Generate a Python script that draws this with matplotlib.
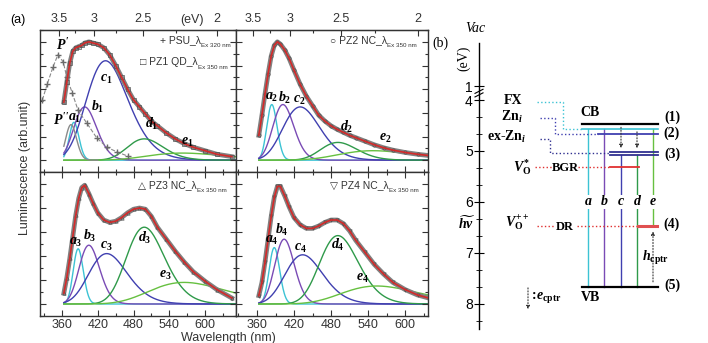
import numpy as np
import matplotlib
matplotlib.use('Agg')
import matplotlib.pyplot as plt
from matplotlib.ticker import MultipleLocator, FixedLocator

plt.rcParams['font.family'] = ['Liberation Sans', 'DejaVu Sans']
plt.rcParams['mathtext.fontset'] = 'custom'
plt.rcParams['mathtext.it'] = 'Liberation Serif:italic:bold'
plt.rcParams['mathtext.rm'] = 'Liberation Serif:bold'
plt.rcParams['mathtext.bf'] = 'Liberation Serif:bold'

wl = [363, 368, 373, 378, 383, 388, 393, 398, 405, 412, 420, 430, 440, 450,
      460, 470, 480, 490, 500, 510, 520, 535, 550, 565, 580, 600, 620, 645]
pz1 = [0.49, 0.66, 0.82, 0.92, 0.95, 0.96, 0.97, 0.99, 1.0, 0.99, 0.98, 0.95, 0.89, 0.80,
       0.70, 0.60, 0.51, 0.45, 0.39, 0.33, 0.29, 0.23, 0.18, 0.14, 0.11, 0.08, 0.05, 0.03]
pz2 = [0.21, 0.38, 0.56, 0.73, 0.88, 0.97, 1.0, 0.98, 0.93, 0.86, 0.76, 0.64, 0.54, 0.46,
       0.38, 0.33, 0.29, 0.26, 0.235, 0.21, 0.19, 0.16, 0.13, 0.105, 0.085, 0.065, 0.05, 0.035]
pz3 = [0.09, 0.22, 0.38, 0.56, 0.74, 0.88, 0.97, 0.99, 0.92, 0.84, 0.76, 0.70, 0.68, 0.69,
       0.72, 0.76, 0.79, 0.80, 0.79, 0.73, 0.64, 0.54, 0.44, 0.35, 0.27, 0.19, 0.12, 0.05]
pz4 = [0.07, 0.18, 0.35, 0.54, 0.73, 0.89, 0.98, 0.98, 0.90, 0.81, 0.72, 0.66, 0.63, 0.63,
       0.65, 0.68, 0.70, 0.70, 0.67, 0.61, 0.53, 0.43, 0.33, 0.25, 0.18, 0.12, 0.075, 0.04]

psu_wl = [327, 335, 345, 353, 362, 368, 377, 387, 402, 418, 435, 452, 470]
psu = [0.51, 0.64, 0.79, 0.89, 0.83, 0.70, 0.57, 0.42, 0.31, 0.19, 0.11, 0.07, 0.035]

# gaussian components: peak wavelength (nm), sigma (eV), height
pz1_peak = [380, 398, 433, 498, 562]
pz1_sig = [0.07, 0.15, 0.23, 0.15, 0.25]
pz1_h = [0.32, 0.45, 0.84, 0.18, 0.06]
pz2_peak = [384, 402, 430, 491, 548]
pz2_sig = [0.07, 0.13, 0.20, 0.15, 0.25]
pz2_h = [0.47, 0.47, 0.45, 0.15, 0.08]
pz3_peak = [387, 405, 435, 498, 565]
pz3_sig = [0.07, 0.13, 0.21, 0.16, 0.25]
pz3_h = [0.46, 0.49, 0.42, 0.64, 0.18]
pz4_peak = [388, 404, 434, 491, 554]
pz4_sig = [0.07, 0.12, 0.20, 0.16, 0.25]
pz4_h = [0.47, 0.54, 0.41, 0.57, 0.15]
p2_peak, p2_sig, p2_h = 375, 0.08, 0.30   # P'' band of PSU

comp_names = ['a', 'b', 'c', 'd', 'e']
comp_colors = ['#3cc3d4', '#7a4bb5', '#4040b0', '#2f9a4a', '#66c040']

# label positions (nm, y) per panel
pz1_lab = [(382, 0.36), (419, 0.45), (435, 0.69), (511, 0.31), (571, 0.15)]
pz2_lab = [(384, 0.53), (405, 0.53), (428, 0.51), (506, 0.28), (567, 0.19)]
pz3_lab = [(383, 0.52), (407, 0.57), (435, 0.48), (499, 0.55), (533, 0.24)]
pz4_lab = [(384, 0.53), (400, 0.62), (430, 0.47), (491, 0.49), (530, 0.22)]

red = '#d42a2a'


def gauss(x, peak, sig, h):
    return h * np.exp(-(1240.0 / x - 1240.0 / peak) ** 2 / (2 * sig ** 2))


fig = plt.figure(figsize=(7.08, 3.43), dpi=100)
W, H = 708.0, 343.0
ax1 = fig.add_axes([40 / W, 1 - 172 / H, 196 / W, 142 / H])
ax2 = fig.add_axes([236 / W, 1 - 172 / H, 192 / W, 142 / H])
ax3 = fig.add_axes([40 / W, 1 - 316 / H, 196 / W, 144 / H])
ax4 = fig.add_axes([236 / W, 1 - 316 / H, 192 / W, 144 / H])

panels = [
    (ax1, pz1, 's', pz1_peak, pz1_sig, pz1_h, pz1_lab, 1, (323, 652), 'PZ1 QD_λ', '□'),
    (ax2, pz2, 'o', pz2_peak, pz2_sig, pz2_h, pz2_lab, 2, (326, 637), 'PZ2 NC_λ', '○'),
    (ax3, pz3, '^', pz3_peak, pz3_sig, pz3_h, pz3_lab, 3, (323, 652), 'PZ3 NC_λ', '△'),
    (ax4, pz4, 'v', pz4_peak, pz4_sig, pz4_h, pz4_lab, 4, (326, 637), 'PZ4 NC_λ', '▽'),
]

for ax, vals, mk, peaks, sigs, hs, labs, n, xl, name, sym in panels:
    xx = np.linspace(363, xl[1], 400)
    for k in range(5):
        ax.plot(xx, gauss(xx, peaks[k], sigs[k], hs[k]), color=comp_colors[k], lw=1.0, zorder=1)
        ax.text(labs[k][0], labs[k][1], r'$%s_{%d}$' % (comp_names[k], n), fontsize=10,
                ha='center', va='center', zorder=6)
    ax.plot(wl, vals, color='#808080', lw=3.4, zorder=2)
    ax.plot(wl, vals, mk, ms=2.4, mfc='none', mec='#505050', mew=0.5, zorder=3)
    ax.plot(wl, vals, color=red, lw=1.2, zorder=4)

    ax.set_xlim(*xl)
    ax.set_ylim(-0.1, 1.1)
    ax.xaxis.set_major_locator(MultipleLocator(60))
    ax.xaxis.set_minor_locator(MultipleLocator(30))
    ax.yaxis.set_major_locator(MultipleLocator(0.2))
    ax.yaxis.set_minor_locator(MultipleLocator(0.1))
    ax.tick_params(axis='both', which='both', direction='in', left=True, right=True,
                   labelleft=False, labelsize=9, width=0.8, colors='#333333')
    ax.tick_params(axis='x', pad=2)
    ax.tick_params(which='major', length=4.5)
    ax.tick_params(which='minor', length=2.5)
    for s in ax.spines.values():
        s.set_color('#333333')
        s.set_linewidth(1.0)

    t = ax.text(0.5 if n % 2 else 0.49, 0.93 if n < 3 else 0.91, sym + ' ' + name,
                transform=ax.transAxes, fontsize=7.5, ha='left', va='center',
                color='#333333', zorder=7)
    if n == 1:
        t.set_position((0.51, 0.775))
    ax.annotate('Ex 350 nm', xy=(1.0, 0.2), xycoords=t, fontsize=4.5, ha='left', va='top',
                color='#333333')

    if n < 3:
        ax.tick_params(axis='x', which='both', top=False, labelbottom=False)
        sec = ax.secondary_xaxis('top', functions=(lambda x: 1240.0 / x, lambda e: 1240.0 / e))
        sec.xaxis.set_major_locator(FixedLocator([3.5, 3.0, 2.5, 2.0]))
        sec.xaxis.set_minor_locator(FixedLocator([3.25, 2.75, 2.25]))
        sec.set_xticklabels(['3.5', '3', '2.5', '2'])
        sec.tick_params(which='both', direction='in', labelsize=9, width=0.8, colors='#333333')
        sec.tick_params(which='major', length=4.5)
        sec.tick_params(which='minor', length=2.5)
    else:
        ax.tick_params(axis='x', which='both', top=True, bottom=True)

# PSU excitation reference and P'' band in the PZ1 panel
ax1.plot(psu_wl, psu, ls='--', color='#8a8a8a', lw=0.8, marker='+', ms=4, mec='#6a6a6a', zorder=2)
xx = np.linspace(363, 420, 120)
ax1.plot(xx, gauss(xx, p2_peak, p2_sig, p2_h), color='#8a8a8a', lw=1.0, zorder=1)
ax1.text(362, 0.97, r"$P'$", fontsize=10, ha='center', va='center')
ax1.text(358, 0.34, r"$P''$", fontsize=10, ha='center', va='center')
tp = ax1.text(0.61, 0.93, '+ PSU_λ', transform=ax1.transAxes, fontsize=7.5, ha='left',
              va='center', color='#333333')
ax1.annotate('Ex 320 nm', xy=(1.0, 0.2), xycoords=tp, fontsize=4.5, ha='left', va='top',
             color='#333333')
ax1.annotate('(eV)', xy=(578, 1.0), xycoords=('data', 'axes fraction'), xytext=(0, 3),
             textcoords='offset points', ha='center', va='bottom', fontsize=9, color='#333333')

fig.text(18 / W, 1 - 20 / H, '(a)', fontsize=9, ha='center', va='center')
fig.text(25 / W, 1 - 168 / H, 'Luminescence (arb.unit)', rotation=90, fontsize=9,
         ha='center', va='center', color='#333333')
fig.text(228 / W, 1 - 338 / H, 'Wavelength (nm)', fontsize=9, ha='center', va='center',
         color='#333333')
fig.text(440 / W, 1 - 43 / H, '(b)', fontsize=10, ha='center', va='center',
         family='Liberation Serif')

# ---- (b) energy level diagram ----
axb = fig.add_axes([440 / W, 0, 268 / W, 1])
axb.set_xlim(0, 268)
axb.set_ylim(8.765, 2.039)
axb.patch.set_alpha(0)
for s in ['top', 'right', 'bottom']:
    axb.spines[s].set_visible(False)
axb.spines['left'].set_position(('data', 39))
axb.spines['left'].set_bounds(8.5, 2.88)
axb.spines['left'].set_linewidth(1.0)
axb.set_xticks([])
axb.set_yticks([3.73, 4, 5, 6, 7, 8])
axb.set_yticklabels(['1', '4', '5', '6', '7', '8'])
axb.yaxis.set_minor_locator(FixedLocator([4 + k / 3 for k in range(1, 14) if k % 3]))
axb.tick_params(axis='y', which='both', direction='inout', labelsize=10, pad=1)
axb.tick_params(axis='y', which='major', length=7)
axb.tick_params(axis='y', which='minor', length=4)
# axis break
axb.plot([35, 43], [3.87, 3.79], color='k', lw=0.8)
axb.plot([35, 43], [3.94, 3.86], color='k', lw=0.8)

serif = 'Liberation Serif'
level_E = [4.47, 4.56, 4.67, 5.01, 5.07, 5.31, 6.47, 7.67]
level_x0 = [142, 142, 158, 170, 170, 170, 198, 142]
level_x1 = [218, 218, 218, 218, 218, 199, 217, 218]
level_col = ['black', '#3cc3d4', '#4040b0', '#303090', '#303090', '#e03030', '#e05050', 'black']
level_lw = [1.6, 1.2, 1.3, 1.3, 1.3, 1.3, 2.2, 1.6]
for e, x0, x1, c, lw in zip(level_E, level_x0, level_x1, level_col, level_lw):
    axb.plot([x0, x1], [e, e], color=c, lw=lw, zorder=3)

trans_x = [148, 164, 181, 197, 213]
trans_top = [4.56, 4.56, 5.07, 5.07, 4.56]
trans_bot = [7.67, 7.67, 7.67, 7.67, 6.47]
for k in range(5):
    axb.plot([trans_x[k], trans_x[k]], [trans_top[k], trans_bot[k]], color=comp_colors[k], lw=1.0, zorder=2)
    axb.text(trans_x[k], 6.0, comp_names[k], family=serif, style='italic', weight='bold',
             fontsize=10, ha='center', va='center', zorder=4,
             bbox=dict(facecolor='white', edgecolor='none', pad=0.5))

arrow_kw = dict(arrowstyle='-|>', linestyle=':', color='#333333', lw=0.8, mutation_scale=5)
axb.annotate('', xy=(181, 5.0), xytext=(181, 4.48), arrowprops=arrow_kw)
axb.annotate('', xy=(197, 5.0), xytext=(197, 4.57), arrowprops=arrow_kw)
axb.annotate('', xy=(213, 6.52), xytext=(213, 7.62), arrowprops=arrow_kw)
axb.annotate('', xy=(88, 8.16), xytext=(88, 7.63), arrowprops=arrow_kw)

# dotted connectors from defect names to levels
axb.plot([97, 123, 123, 142], [4.04, 4.04, 4.56, 4.56], ls=':', color='#3cc3d4', lw=1.0)
axb.plot([100, 115, 115, 158], [4.35, 4.35, 4.67, 4.67], ls=':', color='#4040b0', lw=1.0)
axb.plot([100, 110, 110, 170], [4.76, 4.76, 5.04, 5.04], ls=':', color='#303090', lw=1.0)
axb.plot([95, 112], [5.31, 5.31], ls=':', color='#e03030', lw=1.0)
axb.plot([138, 170], [5.31, 5.31], ls=':', color='#e03030', lw=1.0)
axb.plot([97, 115], [6.47, 6.47], ls=':', color='#e03030', lw=1.0)
axb.plot([137, 198], [6.47, 6.47], ls=':', color='#e03030', lw=1.0)

bold = dict(family=serif, weight='bold', fontsize=10, ha='center', va='center')
axb.text(35, 2.59, 'Vac', family=serif, style='italic', fontsize=10, ha='center', va='center')
axb.text(24, 3.18, '(eV)', family=serif, fontsize=10, rotation=90, ha='center', va='center')
axb.text(73, 4.0, 'FX', **bold)
axb.text(72, 4.33, r'Zn$_{i}$', **bold)
axb.text(67, 4.73, r'ex-Zn$_{i}$', **bold)
axb.text(82, 5.31, r'$V_{\mathrm{O}}^{*}$', fontsize=10, ha='center', va='center')
axb.text(125, 5.33, 'BGR', **dict(bold, fontsize=9))
axb.text(77, 6.43, r'$V_{\mathrm{O}}^{++}$', fontsize=10, ha='center', va='center')
axb.text(125, 6.49, 'DR', **dict(bold, fontsize=9))
axb.text(27, 6.41, r'$\widetilde{h\nu}$', fontsize=10, ha='center', va='center')
axb.text(150, 4.25, 'CB', **bold)
axb.text(150, 7.88, 'VB', **bold)
for lab, e in zip(['(1)', '(2)', '(3)', '(4)', '(5)'], [4.33, 4.65, 5.06, 6.43, 7.63]):
    axb.text(232, e, lab, **bold)
axb.text(215, 7.10, r'$h_{\mathrm{cptr}}$', fontsize=10, ha='center', va='center')
axb.text(105, 7.88, r'$:\!e_{\mathrm{cptr}}$', fontsize=10, ha='center', va='center')

fig.savefig('out.png', dpi=100)
